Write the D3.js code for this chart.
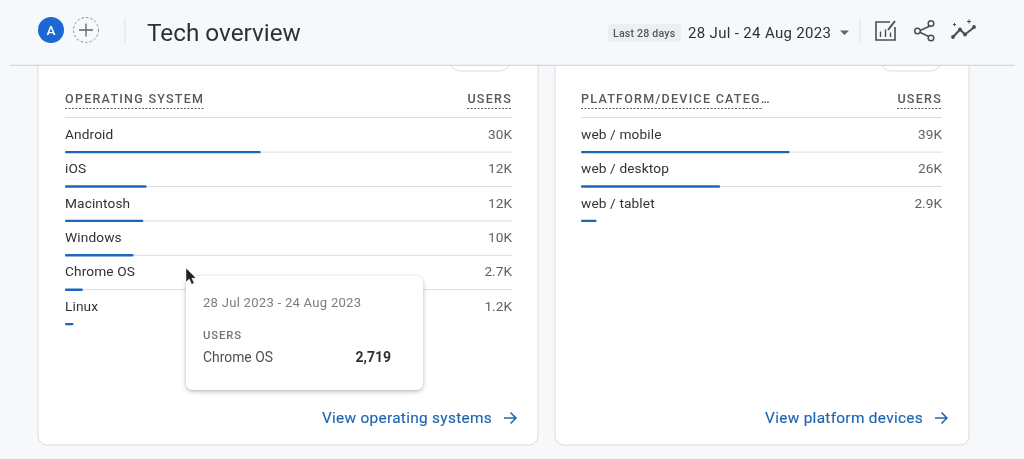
<!DOCTYPE html>
<html><head><meta charset="utf-8">
<script src="https://cdn.jsdelivr.net/npm/d3@7"></script>
<style>
html,body{margin:0;padding:0;background:#f6f8fa;overflow:hidden}
svg{display:block}
text{font-family:Roboto,sans-serif}
</style></head><body>
<svg id="c" width="1024" height="459"></svg>
<script>
const osCategories = ["Android","iOS","Macintosh","Windows","Chrome OS","Linux"];
const osUsers = [30000,12500,12000,10500,2719,1300];
const osLabels = ["30K","12K","12K","10K","2.7K","1.2K"];
const osTotal = 68500;
const platformCategories = ["web / mobile","web / desktop","web / tablet"];
const platformUsers = [39000,26000,2900];
const platformLabels = ["39K","26K","2.9K"];
const platformTotal = 67500;

const svg = d3.select("#c");
const defs = svg.append("defs");
const sh = defs.append("filter").attr("id","sh").attr("x","-10%").attr("y","-10%").attr("width","120%").attr("height","125%");
sh.append("feDropShadow").attr("dx",0).attr("dy",1.5).attr("stdDeviation",2.2).attr("flood-color","#3c4043").attr("flood-opacity",.38);
const blur = defs.append("filter").attr("id","b");
blur.append("feGaussianBlur").attr("stdDeviation",.35);
const root = svg.append("g").attr("filter","url(#b)");

root.append("rect").attr("width",1024).attr("height",459).attr("fill","#f6f8fa");

function card(x0,x1){
  root.append("rect").attr("x",x0).attr("y",40).attr("width",x1-x0).attr("height",405).attr("rx",9)
    .attr("fill","#fff").attr("stroke","#dadce0");
}
function pill(x0,x1){
  root.append("rect").attr("x",x0).attr("y",45).attr("width",x1-x0).attr("height",26).attr("rx",10)
    .attr("fill","#fff").attr("stroke","#dadce0");
}
card(38,538); card(555,969);
pill(450,510); pill(881,941);

function table(opt){
  const {left,right,head,cats,vals,labels,total,link,linkEnd} = opt;
  const x = d3.scaleLinear().domain([0,total]).range([left,right]);
  const y = d3.scaleBand().domain(cats).range([117.7,117.7+34.4*cats.length]);
  const g = root.append("g");
  g.append("text").attr("x",left).attr("y",103).attr("font-size",12.5).attr("font-weight",500)
    .attr("letter-spacing",1.27).attr("fill","#55585c").text(head);
  g.append("text").attr("x",right).attr("y",103).attr("text-anchor","end").attr("font-size",12.5).attr("font-weight",500)
    .attr("letter-spacing",1.27).attr("fill","#55585c").text("USERS");
  const hl = g.append("line").attr("x1",left).attr("x2",left+opt.headW).attr("y1",108.5).attr("y2",108.5);
  const ul = g.append("line").attr("x1",right-45).attr("x2",right).attr("y1",108.5).attr("y2",108.5);
  [hl,ul].forEach(l=>l.attr("stroke","#5f6368").attr("stroke-dasharray","2 1.5"));
  g.append("line").attr("x1",left).attr("x2",right).attr("y1",117.5).attr("y2",117.5).attr("stroke","#dadce0");
  cats.forEach((c,i)=>{
    const yy = y(c), b = yy+y.bandwidth();
    g.append("text").attr("x",left).attr("y",yy+21).attr("font-size",13.7).attr("letter-spacing",.12).attr("fill","#2f3235").text(c);
    g.append("text").attr("x",right).attr("y",yy+21).attr("text-anchor","end").attr("font-size",13.7).attr("fill","#5f6368").text(labels[i]);
    if(i<cats.length-1) g.append("line").attr("x1",left).attr("x2",right).attr("y1",b).attr("y2",b).attr("stroke","#dadce0");
    g.append("rect").attr("x",x(0)).attr("y",b-1.2).attr("width",x(vals[i])-x(0)).attr("height",2.4).attr("rx",1).attr("fill","#1f66bb");
  });
  g.append("text").attr("x",linkEnd).attr("y",423).attr("text-anchor","end").attr("font-size",15.4).attr("letter-spacing",.3).attr("fill","#1f66b0").attr("stroke","#1f66b0").attr("stroke-width",.15).text(link);
  const ax = linkEnd+12;
  g.append("path").attr("d",`M${ax} 418H${ax+12}M${ax+6.5} 412.5L${ax+12} 418L${ax+6.5} 423.5`).attr("fill","none").attr("stroke","#1f66b0").attr("stroke-width",1.5);
}
table({left:65,right:512,head:"OPERATING SYSTEM",headW:139,cats:osCategories,vals:osUsers,labels:osLabels,total:osTotal,link:"View operating systems",linkEnd:492});
table({left:581,right:942,head:"PLATFORM/DEVICE CATEG…",headW:181,cats:platformCategories,vals:platformUsers,labels:platformLabels,total:platformTotal,link:"View platform devices",linkEnd:923});

const tip = root.append("g");
tip.append("rect").attr("x",186).attr("y",276).attr("width",237).attr("height",114).attr("rx",7).attr("fill","#fff").attr("filter","url(#sh)");
tip.append("text").attr("x",203).attr("y",306.5).attr("font-size",13.1).attr("letter-spacing",.25).attr("fill","#7a7e83").text("28 Jul 2023 - 24 Aug 2023");
tip.append("text").attr("x",203).attr("y",338.5).attr("font-size",11.3).attr("font-weight",500).attr("letter-spacing",.9).attr("fill","#70757a").text("USERS");
tip.append("text").attr("x",203).attr("y",362).attr("font-size",13.9).attr("fill","#4f5357").text("Chrome OS");
tip.append("text").attr("x",391).attr("y",362).attr("text-anchor","end").attr("font-size",14).attr("font-weight",700).attr("fill","#2f3235").text("2,719");
root.append("path").attr("d","M186 268L186 282L189.3 279L191.6 284.3L194.2 283.2L191.9 278.3L196 278Z").attr("fill","#202124").attr("stroke","#fff").attr("stroke-width",.5);

root.append("rect").attr("width",1024).attr("height",65).attr("fill","#f6f8fa");
root.append("line").attr("x1",10).attr("x2",1015).attr("y1",65.3).attr("y2",65.3).attr("stroke","#cfd1d4").attr("stroke-width",1);
root.append("circle").attr("cx",51).attr("cy",30).attr("r",13).attr("fill","#1a67d2");
root.append("text").attr("x",51).attr("y",35).attr("text-anchor","middle").attr("font-size",13.5).attr("font-weight",500).attr("fill","#fff").text("A");
root.append("circle").attr("cx",86).attr("cy",30).attr("r",12.5).attr("fill","none").attr("stroke","#8a8d91").attr("stroke-dasharray","2.5 2");
root.append("path").attr("d","M79 30H93M86 23.5V36.5").attr("stroke","#5f6368").attr("stroke-width",1.3);
root.append("line").attr("x1",125).attr("x2",125).attr("y1",18).attr("y2",43).attr("stroke","#dfe1e5");
root.append("text").attr("x",147).attr("y",41).attr("font-size",24.3).attr("fill","#2f3235").text("Tech overview");

root.append("rect").attr("x",608).attr("y",24).attr("width",73).attr("height",18).attr("rx",3).attr("fill","#eceef0");
root.append("text").attr("x",613).attr("y",37).attr("font-size",10.6).attr("font-weight",500).attr("letter-spacing",.2).attr("fill","#55585c").text("Last 28 days");
root.append("text").attr("x",688).attr("y",38).attr("font-size",15).attr("letter-spacing",.33).attr("fill","#2f3235").text("28 Jul - 24 Aug 2023");
root.append("path").attr("d","M840 30.5H849L844.5 35Z").attr("fill","#5f6368");
root.append("line").attr("x1",860).attr("x2",860).attr("y1",18).attr("y2",43).attr("stroke","#dfe1e5");
root.append("path").attr("d","M890 22H876V40H895V27").attr("fill","none").attr("stroke","#4a4d51").attr("stroke-width",1.6);
root.append("path").attr("d","M888 30L895 21").attr("stroke","#4a4d51").attr("stroke-width",2);
root.append("path").attr("d","M880.5 37V31.5M885.5 37V29.5M890.5 37V32.5").attr("stroke","#4a4d51").attr("stroke-width",1.4);
root.append("path").attr("d","M932 25L918 31.5L932 38").attr("fill","none").attr("stroke","#4a4d51").attr("stroke-width",1.5);
[[931,23.5],[917.5,31],[931,38]].forEach(p=>root.append("circle").attr("cx",p[0]).attr("cy",p[1]).attr("r",2.8).attr("fill","#f6f8fa").attr("stroke","#4a4d51").attr("stroke-width",1.5));
root.append("path").attr("d","M953 37L960 29.5L965 34.5L974.5 27").attr("fill","none").attr("stroke","#4a4d51").attr("stroke-width",2);
[[953,37],[960,29.5],[965,34.5],[974,27]].forEach(p=>root.append("circle").attr("cx",p[0]).attr("cy",p[1]).attr("r",1.9).attr("fill","#4a4d51"));
root.append("path").attr("d","M967 21.5h4M969 19.5v4M953 24.5h3M954.5 23v3").attr("stroke","#4a4d51").attr("stroke-width",1);
</script>
</body></html>
